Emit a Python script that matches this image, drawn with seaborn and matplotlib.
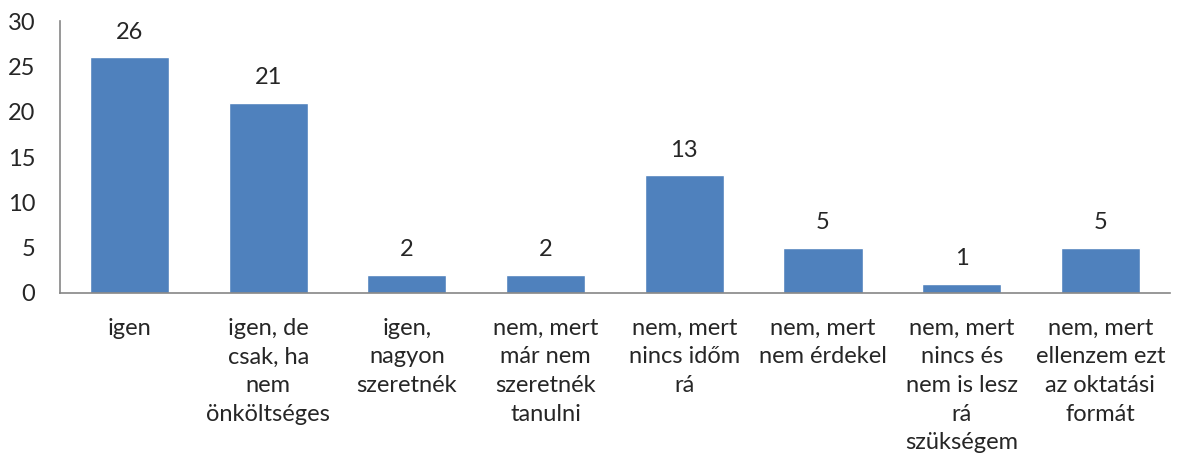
import matplotlib
matplotlib.use("Agg")
import matplotlib.pyplot as plt
import pandas as pd
import seaborn as sns

categories = [
    "igen",
    "igen, de\ncsak, ha\nnem\nönköltséges",
    "igen,\nnagyon\nszeretnék",
    "nem, mert\nmár nem\nszeretnék\ntanulni",
    "nem, mert\nnincs időm\nrá",
    "nem, mert\nnem érdekel",
    "nem, mert\nnincs és\nnem is lesz\nrá\nszükségem",
    "nem, mert\nellenzem ezt\naz oktatási\nformát",
]
counts = [26, 21, 2, 2, 13, 5, 1, 5]
y_ticks = [0, 5, 10, 15, 20, 25, 30]

df = pd.DataFrame({"valasz": categories, "db": counts})

sns.set_style("white")
plt.rcParams["font.family"] = ["Lato", "DejaVu Sans"]

fig, ax = plt.subplots(figsize=(11.78, 4.73), dpi=100)
fig.subplots_adjust(left=0.051, right=0.993, top=0.955, bottom=0.381)

sns.barplot(data=df, x="valasz", y="db", color="#4F81BD", saturation=1,
            width=0.57, ax=ax)

for i, v in enumerate(counts):
    ax.text(i, v + 1.6, str(v), ha="center", va="bottom", fontsize=17)

ax.set_ylim(0, 30)
ax.set_yticks(y_ticks)
ax.set_xlim(-0.5, len(categories) - 0.5)
ax.set_xlabel("")
ax.set_ylabel("")
ax.tick_params(axis="y", labelsize=17, length=0, pad=18)
ax.tick_params(axis="x", labelsize=17, length=0, pad=18)
for lbl in ax.get_xticklabels():
    lbl.set_linespacing(1.45)
    lbl.set_va("top")

sns.despine(ax=ax, top=True, right=True)
for s in ["left", "bottom"]:
    ax.spines[s].set_color("#868686")
    ax.spines[s].set_linewidth(1.2)

plt.savefig("out.png", dpi=100)
